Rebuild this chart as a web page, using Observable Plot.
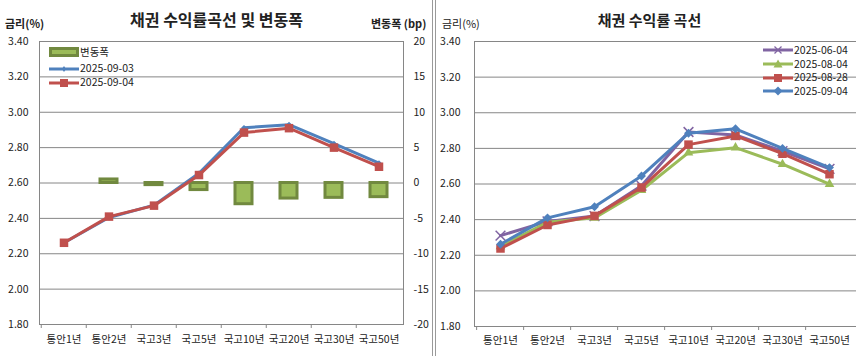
<!DOCTYPE html>
<html>
<head>
<meta charset="utf-8">
<script src="https://cdn.jsdelivr.net/npm/d3@7"></script>
<script src="https://cdn.jsdelivr.net/npm/@observablehq/plot@0.6"></script>
<style>
  html, body { margin: 0; padding: 0; background: #fff; }
  body { font-family: "Noto Sans CJK KR", "Noto Sans", sans-serif; color: #222; }
  #wrap { position: relative; width: 866px; height: 356px; overflow: hidden; background: #fff; }
  .panel { position: absolute; top: 0; width: 433px; height: 356px; }
  .panel svg { position: absolute; left: 0; top: 0; }
  .lbl { position: absolute; white-space: nowrap; line-height: 1; }
  .title { font-weight: bold; }
  .sep { position: absolute; top: 0; width: 1px; height: 356px; background: #9a9a9a; }
  .legend { position: absolute; font-size: 10.5px; line-height: 1; }
  .legend .row { position: absolute; left: 0; display: flex; align-items: center; white-space: nowrap; }
  .legend svg { position: static; display: block; }
</style>
</head>
<body>
<div id="wrap">
  <div class="panel" id="left" style="left:0"></div>
  <div class="panel" id="right" style="left:433px"></div>
  <div class="sep" style="left:432px"></div>
  <div class="sep" style="left:435px"></div>
</div>
<script>
// ---------- data ----------
const categories = ["통안1년", "통안2년", "국고3년", "국고5년", "국고10년", "국고20년", "국고30년", "국고50년"];
const rateTicks = [1.8, 2.0, 2.2, 2.4, 2.6, 2.8, 3.0, 3.2, 3.4];
const bpTicks = [-20, -15, -10, -5, 0, 5, 10, 15, 20];

// left chart
const yield0903 = [2.262, 2.405, 2.475, 2.655, 2.912, 2.930, 2.822, 2.712];
const yield0904 = [2.262, 2.410, 2.472, 2.645, 2.885, 2.910, 2.800, 2.692];
const changeBp  = [null, 0.5, -0.3, -1.0, -3.0, -2.2, -2.1, -2.0];

// right chart
const yield0604 = [2.310, 2.390, 2.420, 2.590, 2.892, 2.875, 2.785, 2.685];
const yield0804 = [2.250, 2.385, 2.410, 2.565, 2.776, 2.804, 2.711, 2.599];
const yield0828 = [2.238, 2.370, 2.421, 2.580, 2.821, 2.870, 2.770, 2.655];

const leftSeries = [
  {name: "2025-09-03", values: yield0903},
  {name: "2025-09-04", values: yield0904}
];
const rightSeries = [
  {name: "2025-06-04", values: yield0604},
  {name: "2025-08-04", values: yield0804},
  {name: "2025-08-28", values: yield0828},
  {name: "2025-09-04", values: yield0904}
];

// ---------- styles ----------
const C = {
  blue: "#4F81BD", red: "#C0504D", green: "#9BBB59", greenDark: "#71893F",
  purple: "#8064A2", grid: "#868686", text: "#222"
};
const font = "'Noto Sans CJK KR', 'Noto Sans', sans-serif";
const bpZero = 2.6;        // 0 bp aligns with 2.60 %
const ratePerBp = 0.04;    // 5 bp per 0.20 %

const toRows = series => series.flatMap(s => s.values.map((v, i) => ({series: s.name, cat: categories[i], v})));

// ---------- left chart ----------
const leftRows = toRows(leftSeries);
const barRows = categories.map((c, i) => ({cat: c, bp: changeBp[i]})).filter(d => d.bp != null);
const leftStep = (433 - 39 - 30) / categories.length;

const leftPlot = Plot.plot({
  width: 433, height: 356,
  marginLeft: 39, marginRight: 30, marginTop: 41, marginBottom: 32,
  x: {type: "band", domain: categories, paddingInner: 0.63, paddingOuter: 0.315, axis: null},
  y: {domain: [1.8, 3.4], axis: null},
  style: {fontFamily: font, fontSize: "10.5px", color: C.text, background: "transparent"},
  marks: [
    Plot.gridY({ticks: rateTicks, stroke: C.grid, strokeOpacity: 1}),
    Plot.frame({stroke: C.grid}),
    Plot.barY(barRows, {x: "cat", y1: () => bpZero, y2: d => bpZero + d.bp * ratePerBp,
      fill: C.green, stroke: C.greenDark, strokeWidth: 3}),
    Plot.line(leftRows.filter(d => d.series === "2025-09-03"), {x: "cat", y: "v", stroke: C.blue, strokeWidth: 3}),
    Plot.dot(leftRows.filter(d => d.series === "2025-09-03"), {x: "cat", y: "v", symbol: "diamond2", r: 2.6, fill: C.blue}),
    Plot.line(leftRows.filter(d => d.series === "2025-09-04"), {x: "cat", y: "v", stroke: C.red, strokeWidth: 3}),
    Plot.dot(leftRows.filter(d => d.series === "2025-09-04"), {x: "cat", y: "v", symbol: "square", r: 4.8, fill: C.red}),
    Plot.axisY({ticks: rateTicks, tickFormat: d3.format(".2f"), tickSize: 0, tickPadding: 11, label: null}),
    Plot.axisY({anchor: "right", ticks: bpTicks.map(b => bpZero + b * ratePerBp),
      tickFormat: v => String(Math.round((v - bpZero) / ratePerBp)), tickSize: 0, tickPadding: 10, label: null}),
    Plot.axisX({tickSize: 0, tickPadding: 11, label: null}),
    Plot.axisX({tickSize: 4, tickFormat: () => "", dx: -leftStep / 2, stroke: C.grid, label: null})
  ]
});
document.getElementById("left").appendChild(leftPlot);

// ---------- right chart ----------
const rightRows = toRows(rightSeries);
const rightStep = (433 - 41 - 10) / categories.length;
const sty = {
  "2025-06-04": {stroke: C.purple, symbol: "times", r: 4.5},
  "2025-08-04": {stroke: C.green, symbol: "triangle2", r: 4.6},
  "2025-08-28": {stroke: C.red, symbol: "square", r: 4.8},
  "2025-09-04": {stroke: C.blue, symbol: "diamond2", r: 4.0}
};
const rightMarks = [
  Plot.gridY({ticks: rateTicks, stroke: C.grid, strokeOpacity: 1}),
  Plot.frame({anchor: "left", stroke: C.grid})
];
for (const s of rightSeries) {
  const rows = rightRows.filter(d => d.series === s.name);
  const st = sty[s.name];
  rightMarks.push(Plot.line(rows, {x: "cat", y: "v", stroke: st.stroke, strokeWidth: 3}));
  if (st.symbol === "times") {
    rightMarks.push(Plot.dot(rows, {x: "cat", y: "v", symbol: "times", r: st.r, stroke: st.stroke, strokeWidth: 1.5, fill: "none"}));
  } else {
    rightMarks.push(Plot.dot(rows, {x: "cat", y: "v", symbol: st.symbol, r: st.r, fill: st.stroke}));
  }
}
rightMarks.push(
  Plot.axisY({ticks: rateTicks, tickFormat: d3.format(".2f"), tickSize: 0, tickPadding: 14, label: null}),
  Plot.axisX({tickSize: 0, tickPadding: 10, label: null}),
  Plot.axisX({tickSize: 4, tickFormat: () => "", dx: -rightStep / 2, stroke: C.grid, label: null})
);
const rightPlot = Plot.plot({
  width: 433, height: 356,
  marginLeft: 41, marginRight: 10, marginTop: 41, marginBottom: 30,
  x: {type: "band", domain: categories, axis: null},
  y: {domain: [1.8, 3.4], axis: null},
  style: {fontFamily: font, fontSize: "10.5px", color: C.text, background: "transparent"},
  marks: rightMarks
});
document.getElementById("right").appendChild(rightPlot);

// ---------- titles and labels ----------
function label(parent, text, css) {
  const d = document.createElement("div");
  d.className = "lbl" + (css.bold ? " title" : "");
  d.textContent = text;
  Object.assign(d.style, css.style);
  document.getElementById(parent).appendChild(d);
  return d;
}
label("left", "채권 수익률곡선 및 변동폭", {bold: true, style: {left: "0", width: "433px", textAlign: "center", top: "11px", fontSize: "16px"}});
label("left", "금리(%)", {bold: true, style: {left: "5px", top: "18px", fontSize: "11px"}});
label("left", "변동폭 (bp)", {bold: true, style: {left: "371px", top: "18px", fontSize: "11px"}});
label("right", "채권 수익률 곡선", {bold: true, style: {left: "0", width: "433px", textAlign: "center", top: "12px", fontSize: "15px"}});
label("right", "금리(%)", {bold: false, style: {left: "9px", top: "18px", fontSize: "11px"}});

// ---------- legends ----------
function markerSvg(kind, color) {
  const w = 30, h = 12, cy = 6, cx = 15;
  let line = `<line x1="0" x2="${w}" y1="${cy}" y2="${cy}" stroke="${color}" stroke-width="3"/>`;
  let m = "";
  if (kind === "bar") {
    return `<svg width="${w}" height="${h}"><rect x="1.5" y="2.5" width="${w - 3}" height="7" fill="${C.green}" stroke="${C.greenDark}" stroke-width="3"/></svg>`;
  }
  if (kind === "square") m = `<rect x="${cx - 4}" y="${cy - 4}" width="8" height="8" fill="${color}"/>`;
  if (kind === "diamond") m = `<path d="M${cx},${cy - 4.5}L${cx + 4.5},${cy}L${cx},${cy + 4.5}L${cx - 4.5},${cy}Z" fill="${color}"/>`;
  if (kind === "smalldiamond") m = `<path d="M${cx},${cy - 3}L${cx + 2},${cy}L${cx},${cy + 3}L${cx - 2},${cy}Z" fill="${color}"/>`;
  if (kind === "triangle") m = `<path d="M${cx},${cy - 4.5}L${cx + 4.5},${cy + 3.5}L${cx - 4.5},${cy + 3.5}Z" fill="${color}"/>`;
  if (kind === "times") m = `<path d="M${cx - 3.5},${cy - 3.5}L${cx + 3.5},${cy + 3.5}M${cx - 3.5},${cy + 3.5}L${cx + 3.5},${cy - 3.5}" stroke="${color}" stroke-width="1.3"/>`;
  return `<svg width="${w}" height="${h}">${line}${m}</svg>`;
}
function legend(parent, left, top, items, gap) {
  const L = document.createElement("div");
  L.className = "legend";
  L.style.left = left + "px"; L.style.top = top + "px";
  items.forEach((it, i) => {
    const r = document.createElement("div");
    r.className = "row";
    r.style.top = (i * gap[i]) + "px";
    r.innerHTML = markerSvg(it.kind, it.color) + `<span style="margin-left:1px">${it.name}</span>`;
    L.appendChild(r);
  });
  document.getElementById(parent).appendChild(L);
}
legend("left", 49, 46, [
  {name: "변동폭", kind: "bar"},
  {name: "2025-09-03", kind: "smalldiamond", color: C.blue},
  {name: "2025-09-04", kind: "square", color: C.red}
], [0, 16.5, 15.3]);
legend("right", 330, 44, [
  {name: "2025-06-04", kind: "times", color: C.purple},
  {name: "2025-08-04", kind: "triangle", color: C.green},
  {name: "2025-08-28", kind: "square", color: C.red},
  {name: "2025-09-04", kind: "diamond", color: C.blue}
], [0, 13.8, 13.8, 13.8]);
</script>
</body>
</html>
